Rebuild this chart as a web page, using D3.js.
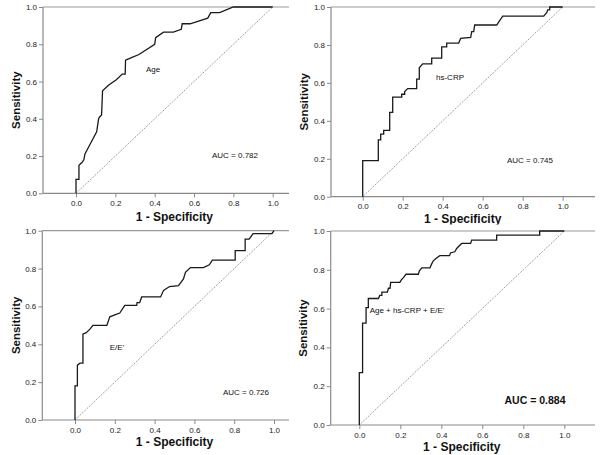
<!DOCTYPE html>
<html>
<head>
<meta charset="utf-8">
<script src="https://cdn.jsdelivr.net/npm/d3@7"></script>
<style>
  body { margin: 0; background: #fff; }
  svg { display: block; font-family: "Liberation Sans", Arial, sans-serif; }
</style>
</head>
<body>
<svg id="chart" width="600" height="455"></svg>
<script>
// ROC points [1 - specificity, sensitivity]
const agePoints = [[0,0],[0,0.075],[0.015,0.075],[0.015,0.15],[0.03,0.165],[0.04,0.18],[0.045,0.21],[0.075,0.27],[0.105,0.33],[0.115,0.40],[0.12,0.41],[0.13,0.42],[0.135,0.55],[0.165,0.58],[0.205,0.61],[0.235,0.64],[0.25,0.64],[0.252,0.715],[0.285,0.73],[0.32,0.745],[0.40,0.80],[0.405,0.835],[0.445,0.865],[0.495,0.865],[0.535,0.88],[0.54,0.91],[0.58,0.91],[0.67,0.94],[0.685,0.97],[0.73,0.97],[0.80,1.0],[1,1]];

const crpPoints = [[0,0],[0,0.19],[0.078,0.19],[0.078,0.30],[0.09,0.30],[0.09,0.33],[0.105,0.33],[0.105,0.35],[0.135,0.35],[0.135,0.445],[0.15,0.445],[0.15,0.525],[0.195,0.525],[0.195,0.54],[0.21,0.54],[0.21,0.555],[0.225,0.57],[0.27,0.57],[0.27,0.62],[0.283,0.62],[0.283,0.68],[0.30,0.70],[0.345,0.70],[0.345,0.73],[0.395,0.73],[0.395,0.79],[0.42,0.79],[0.42,0.81],[0.48,0.81],[0.49,0.835],[0.54,0.84],[0.545,0.87],[0.555,0.87],[0.56,0.905],[0.67,0.905],[0.70,0.952],[0.905,0.952],[0.92,0.97],[0.925,0.985],[0.935,0.985],[0.935,1.0],[1,1]];

const eePoints = [[0,0],[0,0.18],[0.012,0.18],[0.012,0.29],[0.025,0.30],[0.04,0.30],[0.04,0.455],[0.055,0.46],[0.075,0.48],[0.09,0.50],[0.16,0.50],[0.175,0.545],[0.20,0.555],[0.225,0.565],[0.25,0.605],[0.31,0.605],[0.312,0.62],[0.325,0.62],[0.335,0.65],[0.43,0.65],[0.445,0.685],[0.475,0.705],[0.52,0.71],[0.545,0.745],[0.555,0.78],[0.58,0.805],[0.645,0.805],[0.675,0.82],[0.69,0.845],[0.805,0.845],[0.805,0.895],[0.855,0.895],[0.855,0.955],[0.875,0.955],[0.885,0.97],[0.895,0.985],[0.99,0.985],[1,1]];

const combinedPoints = [[0,0],[0,0.27],[0.016,0.27],[0.016,0.525],[0.033,0.525],[0.033,0.605],[0.044,0.605],[0.044,0.652],[0.093,0.652],[0.1,0.668],[0.11,0.668],[0.11,0.685],[0.137,0.685],[0.142,0.705],[0.15,0.705],[0.153,0.735],[0.198,0.735],[0.205,0.748],[0.215,0.76],[0.228,0.777],[0.288,0.777],[0.293,0.795],[0.305,0.81],[0.345,0.81],[0.352,0.828],[0.36,0.845],[0.375,0.86],[0.393,0.873],[0.44,0.873],[0.446,0.888],[0.466,0.893],[0.475,0.91],[0.488,0.924],[0.5,0.936],[0.543,0.936],[0.548,0.953],[0.67,0.953],[0.67,0.979],[0.88,0.979],[0.88,1.0],[1,1]];

const curveLabels = ["Age", "hs-CRP", "E/E'", "Age + hs-CRP + E/E'"];
const aucLabels = ["AUC = 0.782", "AUC = 0.745", "AUC = 0.726", "AUC = 0.884"];
const tickValues = [0, 0.2, 0.4, 0.6, 0.8, 1.0];

// panel layout in pixels
const panels = [
  { pts: agePoints, axisX: 43, right: 289, top: 7, bottom: 193.3, x0: 76, x1: 272.7, yTitleX: 17, xTitleY: 218,
    label: [153, 70], auc: [235, 156], aucBold: false },
  { pts: crpPoints, axisX: 331, right: 595, top: 7, bottom: 196.7, x0: 362.7, x1: 562.7, yTitleX: 305, xTitleY: 220,
    label: [450, 78], auc: [530, 161], aucBold: false },
  { pts: eePoints, axisX: 42.3, right: 289, top: 230.7, bottom: 420, x0: 75, x1: 274, yTitleX: 17, xTitleY: 443,
    label: [117, 348], auc: [246, 393], aucBold: false },
  { pts: combinedPoints, axisX: 330.7, right: 595, top: 231, bottom: 425, x0: 359.3, x1: 564.3, yTitleX: 304, xTitleY: 448,
    label: [407, 311], auc: [535, 401], aucBold: true }
];

const svg = d3.select("#chart");
svg.append("rect").attr("width", 600).attr("height", 455).attr("fill", "#fff");

panels.forEach((p, i) => {
  // bottom-right figure sits over the clipped title of the one above
  if (i === 3) {
    svg.append("rect").attr("x", 300).attr("y", 224.5).attr("width", 300).attr("height", 231).attr("fill", "#fff");
  }
  const g = svg.append("g");
  const x = d3.scaleLinear().domain([0, 1]).range([p.x0, p.x1]);
  const y = d3.scaleLinear().domain([0, 1]).range([p.bottom, p.top]);

  // frame lines
  g.append("line").attr("x1", p.axisX).attr("x2", p.right).attr("y1", p.top).attr("y2", p.top)
    .attr("stroke", "#9a9a9a").attr("stroke-width", 1.2);
  g.append("line").attr("x1", p.axisX).attr("x2", p.right).attr("y1", p.bottom).attr("y2", p.bottom)
    .attr("stroke", "#8a8a8a").attr("stroke-width", 1.2);
  g.append("line").attr("x1", p.axisX).attr("x2", p.axisX).attr("y1", p.top).attr("y2", p.bottom)
    .attr("stroke", "#8a8a8a").attr("stroke-width", 1.2);

  // axes
  const xAxis = g.append("g").attr("transform", `translate(0,${p.bottom})`)
    .call(d3.axisBottom(x).tickValues(tickValues).tickFormat(d3.format(".1f")).tickSize(4).tickPadding(3));
  const yAxis = g.append("g").attr("transform", `translate(${p.axisX},0)`)
    .call(d3.axisLeft(y).tickValues(tickValues).tickFormat(d3.format(".1f")).tickSize(4).tickPadding(2));
  [xAxis, yAxis].forEach(a => {
    a.select(".domain").remove();
    a.selectAll(".tick line").attr("stroke", "#8a8a8a");
    a.selectAll(".tick text").attr("fill", "#222").style("font-size", "8px");
  });

  // reference diagonal
  g.append("line")
    .attr("x1", x(0)).attr("y1", y(0)).attr("x2", x(1)).attr("y2", y(1))
    .attr("stroke", "#555").attr("stroke-width", 0.7).attr("stroke-dasharray", "1.2,1.2");

  // ROC curve
  g.append("path")
    .datum(p.pts)
    .attr("fill", "none")
    .attr("stroke", "#1a1a1a")
    .attr("stroke-width", 1.3)
    .attr("d", d3.line().x(d => x(d[0])).y(d => y(d[1])));

  // titles
  g.append("text")
    .attr("x", x(0.5)).attr("y", p.xTitleY)
    .attr("text-anchor", "middle").attr("dominant-baseline", "middle")
    .style("font-size", "12px").style("font-weight", "bold").attr("fill", "#111")
    .text("1 - Specificity");
  g.append("text")
    .attr("transform", `translate(${p.yTitleX},${(p.top + p.bottom) / 2}) rotate(-90)`)
    .attr("text-anchor", "middle").attr("dominant-baseline", "middle")
    .style("font-size", "11.5px").style("font-weight", "bold").attr("fill", "#111")
    .text("Sensitivity");

  // annotations
  g.append("text")
    .attr("x", p.label[0]).attr("y", p.label[1])
    .attr("text-anchor", "middle").attr("dominant-baseline", "middle")
    .style("font-size", "8px").attr("fill", "#111")
    .text(curveLabels[i]);
  g.append("text")
    .attr("x", p.auc[0]).attr("y", p.auc[1])
    .attr("text-anchor", "middle").attr("dominant-baseline", "middle")
    .style("font-size", p.aucBold ? "10.5px" : "8px")
    .style("font-weight", p.aucBold ? "bold" : "normal").attr("fill", "#111")
    .text(aucLabels[i]);
});
</script>
</body>
</html>
